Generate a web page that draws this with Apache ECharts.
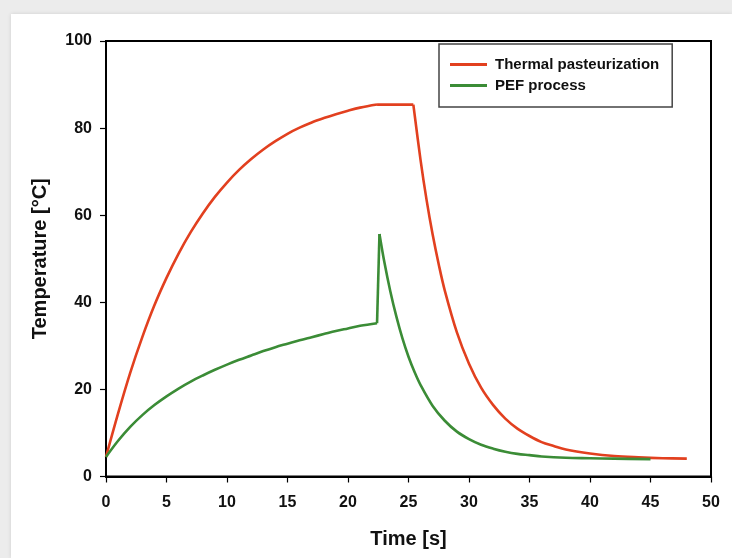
<!DOCTYPE html>
<html>
<head>
<meta charset="utf-8">
<script src="https://cdn.jsdelivr.net/npm/echarts@6/dist/echarts.min.js"></script>
<style>
  html, body { margin: 0; padding: 0; background: #ececec; }
  #card { position: absolute; left: 11px; top: 14px; width: 721px; height: 544px; background: #ffffff; box-shadow: 0 0 4px rgba(0,0,0,0.12); }
  #chart { position: absolute; left: 0; top: 0; width: 732px; height: 558px; }
</style>
</head>
<body>
<div id="card"></div>
<div id="chart"></div>
<script>
// Time [s] and temperature [°C]
// Thermal pasteurization: heating, holding plateau, cooling
const thermalHeatTime = [0, 1, 2, 3, 4, 5, 6, 7, 8, 9, 10, 11, 12, 13, 14, 15, 16, 17, 18, 19, 20, 21, 22.4];
const thermalHeatTemp = [4.5, 14.5, 23.8, 32, 39.3, 45.6, 51.2, 56.1, 60.4, 64.2, 67.5, 70.4, 72.9, 75.1, 77.0, 78.7, 80.1, 81.3, 82.3, 83.2, 84.0, 84.7, 85.4];
const thermalHoldTime = [22.4, 25.4];
const thermalHoldTemp = [85.4, 85.4];
const thermalCoolTime = [25.4, 26, 26.5, 27, 27.5, 28, 29, 30, 31, 32, 33, 34, 35, 36, 37, 38, 40, 42, 44, 46, 48];
const thermalCoolTemp = [85.4, 72.6, 63.4, 55.5, 48.7, 42.7, 33.1, 25.9, 20.4, 16.4, 13.3, 11.0, 9.3, 7.9, 7.0, 6.2, 5.3, 4.7, 4.4, 4.2, 4.1];

// PEF process: preheating, PEF temperature jump, cooling
const pefHeatTime = [0, 1, 2, 3, 4, 5, 6, 7, 8, 9, 10, 11, 12, 13, 14, 15, 16, 17, 18, 19, 20, 21, 22.4];
const pefHeatTemp = [4.5, 8.2, 11.4, 14.1, 16.4, 18.4, 20.2, 21.8, 23.2, 24.5, 25.7, 26.8, 27.8, 28.8, 29.7, 30.5, 31.3, 32.0, 32.7, 33.4, 34.0, 34.6, 35.2];
const pefJumpTime = [22.4, 22.6];
const pefJumpTemp = [35.2, 55.7];
const pefCoolTime = [22.6, 23, 23.5, 24, 24.5, 25, 25.5, 26, 27, 28, 29, 30, 31, 32, 33, 34, 35, 36, 38, 40, 42, 45];
const pefCoolTemp = [55.7, 49.3, 42.5, 36.7, 31.7, 27.5, 24.0, 21.0, 16.2, 12.8, 10.3, 8.6, 7.3, 6.4, 5.7, 5.2, 4.9, 4.6, 4.3, 4.2, 4.1, 4.0];

const seriesNames = ['Thermal pasteurization', 'PEF process'];
const xTicks = [0, 5, 10, 15, 20, 25, 30, 35, 40, 45, 50];
const yTicks = [0, 20, 40, 60, 80, 100];

const pair = (xs, ys) => xs.map((x, i) => [x, ys[i]]);
const FONT = 'Liberation Sans, Arial, sans-serif';
const RED = '#e2401f';
const GREEN = '#3b8c36';

function lineSeries(name, color, data, smooth) {
  return {
    name: name, type: 'line', data: data,
    smooth: smooth ? 0.35 : false,
    showSymbol: false, symbol: 'none',
    itemStyle: { color: color },
    lineStyle: { color: color, width: 2.6, join: 'round' }
  };
}

const chart = echarts.init(document.getElementById('chart'));
chart.setOption({
  backgroundColor: 'transparent',
  animation: false,
  grid: { left: 106, right: 21, top: 41, bottom: 81.5, show: true, borderColor: '#000', borderWidth: 2, backgroundColor: 'transparent' },
  legend: {
    data: seriesNames,
    left: 439, top: 44,
    orient: 'vertical',
    icon: 'rect',
    itemWidth: 37, itemHeight: 3,
    itemGap: 6,
    padding: [13, 13, 14, 11],
    borderColor: '#444', borderWidth: 1.5,
    textStyle: { fontFamily: FONT, fontWeight: 'bold', fontSize: 15, color: '#111', lineHeight: 15, padding: [0, 0, 0, 3] }
  },
  xAxis: {
    type: 'value', min: xTicks[0], max: xTicks[xTicks.length - 1], interval: 5,
    name: 'Time [s]', nameLocation: 'middle', nameGap: 53,
    nameTextStyle: { fontFamily: FONT, fontWeight: 'bold', fontSize: 20, color: '#111' },
    axisLine: { show: true, lineStyle: { color: '#000', width: 2 } },
    axisTick: { show: true, inside: false, length: 6, lineStyle: { color: '#000', width: 1.2 } },
    axisLabel: { fontFamily: FONT, fontWeight: 'bold', fontSize: 16, color: '#111', margin: 18 },
    splitLine: { show: false }
  },
  yAxis: {
    type: 'value', min: yTicks[0], max: yTicks[yTicks.length - 1], interval: 20,
    name: 'Temperature [°C]', nameLocation: 'middle', nameGap: 56,
    nameTextStyle: { fontFamily: FONT, fontWeight: 'bold', fontSize: 20, color: '#111' },
    axisLine: { show: true, lineStyle: { color: '#000', width: 2 } },
    axisTick: { show: true, inside: false, length: 6, lineStyle: { color: '#000', width: 1.2 } },
    axisLabel: { fontFamily: FONT, fontWeight: 'bold', fontSize: 16, color: '#111', margin: 14 },
    splitLine: { show: false }
  },
  series: [
    lineSeries(seriesNames[0], RED, pair(thermalHeatTime, thermalHeatTemp), true),
    lineSeries(seriesNames[0], RED, pair(thermalHoldTime, thermalHoldTemp), false),
    lineSeries(seriesNames[0], RED, pair(thermalCoolTime, thermalCoolTemp), true),
    lineSeries(seriesNames[1], GREEN, pair(pefHeatTime, pefHeatTemp), true),
    lineSeries(seriesNames[1], GREEN, pair(pefJumpTime, pefJumpTemp), false),
    lineSeries(seriesNames[1], GREEN, pair(pefCoolTime, pefCoolTemp), true)
  ]
});
</script>
</body>
</html>
